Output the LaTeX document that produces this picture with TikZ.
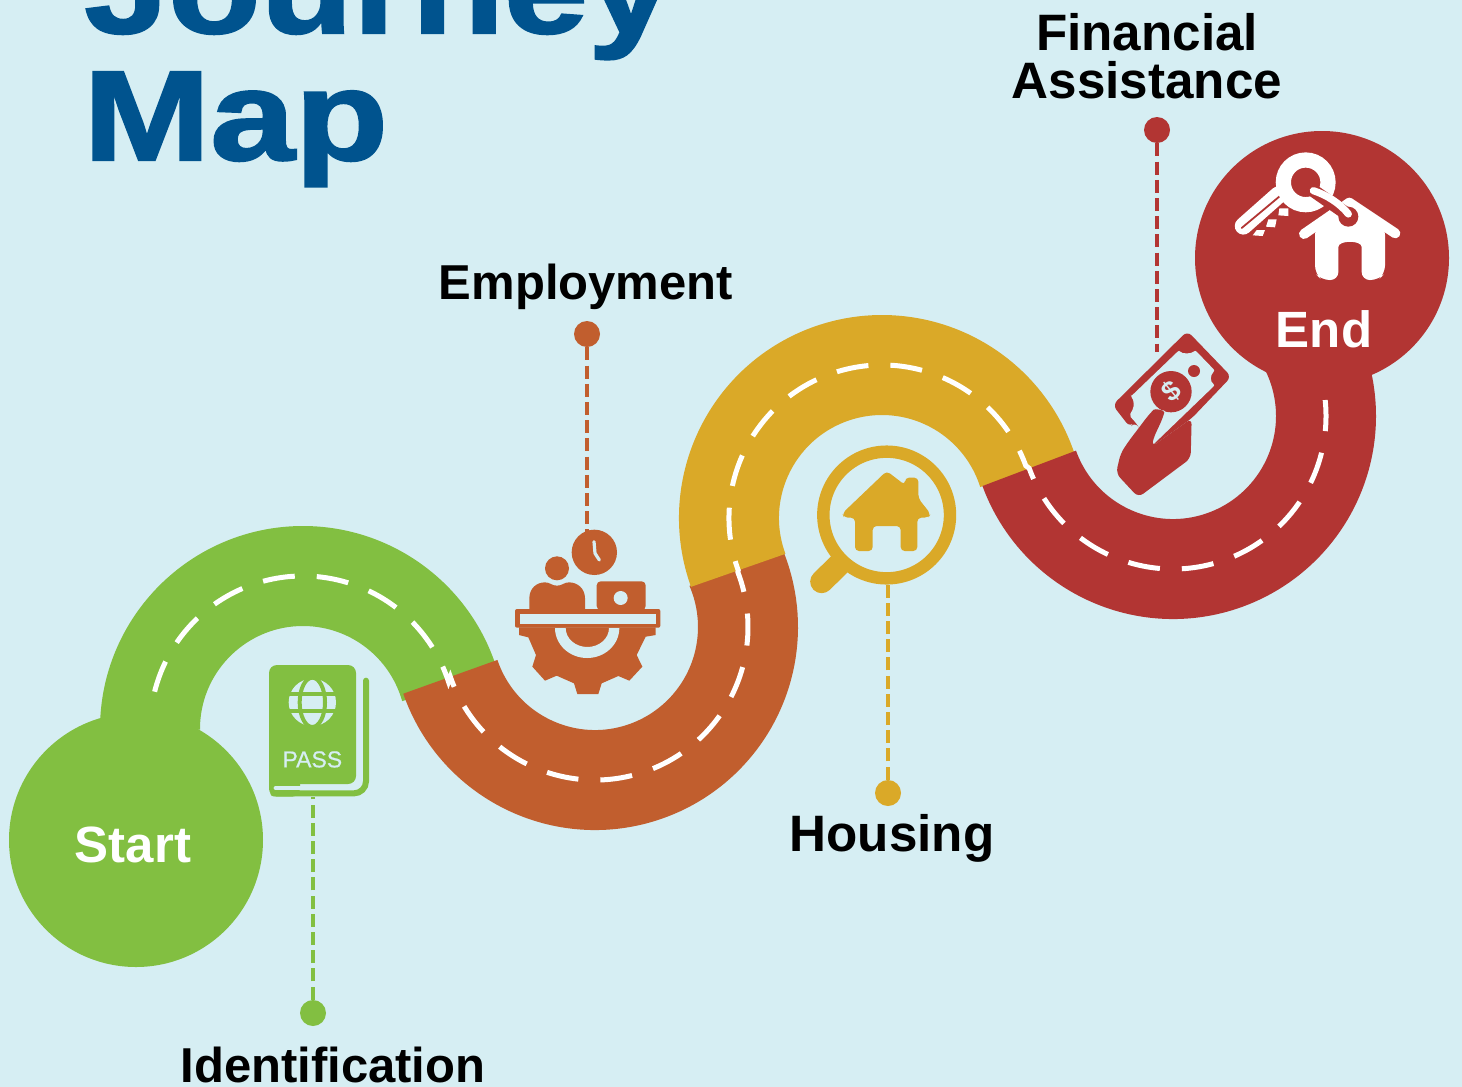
\documentclass[tikz,border=0pt]{standalone}
\usepackage{graphicx}
\usepackage{fontspec}
\setmainfont{Liberation Sans}
\newfontfamily\ttlfont[BoldFeatures={FakeBold=1.6}]{Liberation Sans}
\newfontfamily\passfont[UprightFeatures={FakeBold=0.6}]{Liberation Sans}
\usetikzlibrary{calc}
\definecolor{bgc}{HTML}{D6EEF3}
\definecolor{gr}{HTML}{82BF41}
\definecolor{orc}{HTML}{C15E2E}
\definecolor{ye}{HTML}{DAA928}
\definecolor{rd}{HTML}{B23533}
\definecolor{tit}{HTML}{00538E}
\tikzset{
  road/.style={line width=50pt},
  mark line/.style={white,line width=2.5pt,dash pattern=on 16.05pt off 11pt,dash phase=25.55pt},
  stem/.style={line width=2.4pt,dash pattern=on 6.5pt off 2.6pt},
  dot/.style={circle,inner sep=0pt,minimum size=13pt},
  lab/.style={font=\bfseries\fontsize{25}{25}\selectfont,anchor=base,inner sep=0pt,text=black},
  inlab/.style={font=\bfseries\fontsize{25.5}{25}\selectfont,anchor=base,inner sep=0pt,text=white},
  ttl/.style={font=\ttlfont\bfseries\fontsize{64}{64}\selectfont,anchor=base west,inner sep=0pt,text=tit},
  zoomed/.style={x=0.166667pt,y=-0.166667pt}
}
\begin{document}
\begin{tikzpicture}[x=0.5pt,y=-0.5pt]
\useasboundingbox (0,0) rectangle (1462,1087);
\clip (0,0) rectangle (1462,1087);
\fill[bgc] (0,0) rectangle (1462,1087);
% title
\node[ttl] (t1) at (84,33) {\scalebox{1.18}[1]{Journey}};
\node[ttl] (t2) at (83,160) {\scalebox{1.19}[1]{Map}};
% road
\draw[road,gr] ($(303,729)+(180:153)$) arc[start angle=180,end angle=344,radius=153];
\draw[road,orc] ($(595,627)+(161:153)$) arc[start angle=161,end angle=-23,radius=153];
\draw[road,ye] ($(882,518)+(160:153)$) arc[start angle=160,end angle=342,radius=153];
\draw[road,rd] ($(1173,416)+(160:153)$) arc[start angle=160,end angle=-35,radius=153];
\draw[mark line]
  ($(303,729)+(193:153)$) arc[start angle=193,end angle=342,radius=153]
  -- ($(595,627)+(161:153)$) arc[start angle=161,end angle=-21,radius=153]
  -- ($(882,518)+(160:153)$) arc[start angle=160,end angle=340,radius=153]
  -- ($(1173,416)+(160:153)$) arc[start angle=160,end angle=-6,radius=153];
% terminals
\node[circle,fill=gr,inner sep=0pt,minimum size=127pt] (start) at (136,840) {};
\node[circle,fill=rd,inner sep=0pt,minimum size=127pt] (end) at (1322,258) {};
\node[inlab] (startl) at (133,862) {Start};
\node[inlab] (endl) at (1324,347) {End};
% stems
\node[dot,fill=gr] (d1) at (313,1013) {};
\node[dot,fill=orc] (d2) at (587,334) {};
\node[dot,fill=ye] (d3) at (888,793) {};
\node[dot,fill=rd] (d4) at (1157,130) {};
\coordinate (i1) at (313,797);
\coordinate (i2) at (587,532);
\coordinate (i3) at (888,585);
\coordinate (i4) at (1157,352);
\draw[stem,gr] (d1) -- (i1);
\draw[stem,orc] (d2) -- (i2);
\draw[stem,ye] (d3) -- (i3);
\draw[stem,rd] (d4) -- (i4);
% labels
\node[lab,font=\bfseries\fontsize{24.5}{25}\selectfont] (l1) at (333,1082) {Identification};
\node[lab,font=\bfseries\fontsize{24.5}{25}\selectfont] (l2) at (586,299) {Employment};
\node[lab,font=\bfseries\fontsize{25.6}{25}\selectfont] (l3) at (892,851) {Housing};
\node[lab,font=\bfseries\fontsize{25.6}{25}\selectfont] (l4) at (1147,50) {Financial};
\node[lab,font=\bfseries\fontsize{25.6}{25}\selectfont] (l5) at (1147,98) {Assistance};
% passport
\begin{scope}[shift={(260,660)},zoomed]
 \fill[gr,rounded corners=4pt] (27,15) rectangle (288,372);
 \fill[gr,rounded corners=4pt] (27,300) rectangle (120,410);
 \draw[gr,line width=3pt,line cap=round,rounded corners=6pt] (318,62) -- (318,400) -- (40,400);
 \draw[bgc,line width=2.4pt,line cap=round] (48,384) -- (130,384);
 \fill[bgc] (157,127) circle[radius=71];
 \draw[gr,line width=2pt] (157,127) ellipse[x radius=38,y radius=74];
 \draw[gr,line width=2pt] (80,102) -- (234,102) (80,152) -- (234,152);
 \node[text=bgc,font=\passfont\fontsize{11.5}{12}\selectfont,inner sep=0pt,anchor=base] (pass) at (157,322) {PASS};
\end{scope}
% employment icon
\begin{scope}[shift={(500,520)},zoomed]
 \fill[orc] (283,97) circle[radius=68];
 \draw[bgc,line width=1.6pt,line cap=round,line join=round] (282,65) -- (285,100) -- (298,120);
 \fill[orc] (171,145) circle[radius=36];
 \fill[orc] (88,268) -- (88,235) .. controls (88,205) and (110,187) .. (135,187) .. controls (150,187) and (155,197) .. (171,197) .. controls (187,197) and (192,187) .. (207,187) .. controls (232,187) and (255,205) .. (255,235) -- (255,268) -- cycle;
 \fill[orc,rounded corners=2pt] (290,270) -- (290,184) -- (437,184) -- (437,270) -- cycle;
 \fill[bgc] (362,234) circle[radius=21];
 \fill[orc,rounded corners=1pt] (45,267) rectangle (481,323);
 \fill[orc] (57,322) -- (57,345) -- (85,352) -- (108,405) -- (97,440) -- (135,482) -- (170,467) -- (222,490) -- (232,522) -- (295,522) -- (305,490) -- (355,468) -- (388,482) -- (427,440) -- (410,405) -- (437,350) -- (467,345) -- (467,322) -- cycle;
 \fill[bgc] (60,282) rectangle (467,312);
 \fill[bgc] (165,324) arc[start angle=180,end angle=0,x radius=96.5,y radius=90] -- (327,324) arc[start angle=0,end angle=180,x radius=65,y radius=57] -- cycle;
\end{scope}
% housing icon
\begin{scope}[shift={(800,440)},zoomed]
 \draw[ye,line width=11.5pt,line cap=round] (116,375) -- (65,425);
 \fill[bgc] (260,225) circle[radius=172];
 \draw[ye,line width=6.2pt] (260,225) circle[radius=190];
 \fill[ye,rounded corners=2pt] (260,93) -- (315,135) -- (315,113) -- (355,113) -- (355,175) -- (392,222) -- (385,233) -- (352,233) -- (352,333) -- (302,333) -- (302,258) -- (218,258) -- (218,333) -- (165,333) -- (165,233) -- (132,233) -- (127,220) -- cycle;
\end{scope}
% money icon and house keys
\begin{scope}[shift={(1100,130)},zoomed]
 \fill[rd,rounded corners=3pt] (262,603) -- (394,740) -- (275,865) -- (155,950) -- (105,875) -- (90,892) -- (38,825) -- cycle;
 \fill[bgc,rounded corners=1pt] (92,800) -- (238,660) .. controls (245,672) and (275,672) .. (285,660) -- (345,722) .. controls (330,735) and (330,755) .. (345,765) -- (155,948) -- (105,875) -- (88,857) -- (100,835) .. controls (102,820) and (100,808) .. (92,800) -- cycle;
 \fill[rd] (213,785) circle[radius=62];
 \fill[rd] (282,723) circle[radius=18];
 \node[text=bgc,font=\bfseries\fontsize{14}{14}\selectfont,inner sep=0pt,rotate=40] (dollar) at (214,783) {\$};
 \draw[bgc,line width=1.2pt,line cap=round] (120,900) -- (160,845) -- (190,845) -- (200,860);
 \fill[rd,rounded corners=3pt] (275,865) -- (272,985) -- (115,1102) -- (48,1030) -- (62,970) -- (85,935) -- (148,852) .. controls (165,835) and (195,840) .. (188,865) -- (160,925) -- (155,950) -- cycle;
 % keys
 \fill[white] (495,300) -- (488,318) -- (458,316) -- (470,300) -- cycle;
 \fill[white] (530,268) -- (525,292) -- (498,290) -- (505,268) -- cycle;
 \fill[white] (565,235) -- (565,258) -- (535,256) -- (538,235) -- cycle;
 \draw[white,line width=8.6pt,line cap=round,line join=round] (535,195) -- (430,288);
 \draw[rd,line width=0.9pt,line cap=round] (540,198) -- (425,294);
 \draw[white,line width=7.6pt] (617,157) circle[radius=67];
 \draw[white,line width=5pt,line cap=round,line join=round] (612,312) -- (748,218) -- (886,310);
 \fill[white,rounded corners=4pt] (645,290) -- (748,222) -- (855,290) -- (855,430) -- (835,450) -- (785,450) -- (785,375) .. controls (785,330) and (715,330) .. (715,375) -- (715,450) -- (665,450) -- (645,430) -- cycle;
 \fill[rd] (745,260) circle[radius=30];
 \draw[rd,line width=6.5pt,line cap=round] (640,182) -- (745,255);
 \draw[white,line width=3.6pt,line cap=round] (640,182) .. controls (680,195) and (720,220) .. (745,252);
\end{scope}
\end{tikzpicture}
\end{document}
